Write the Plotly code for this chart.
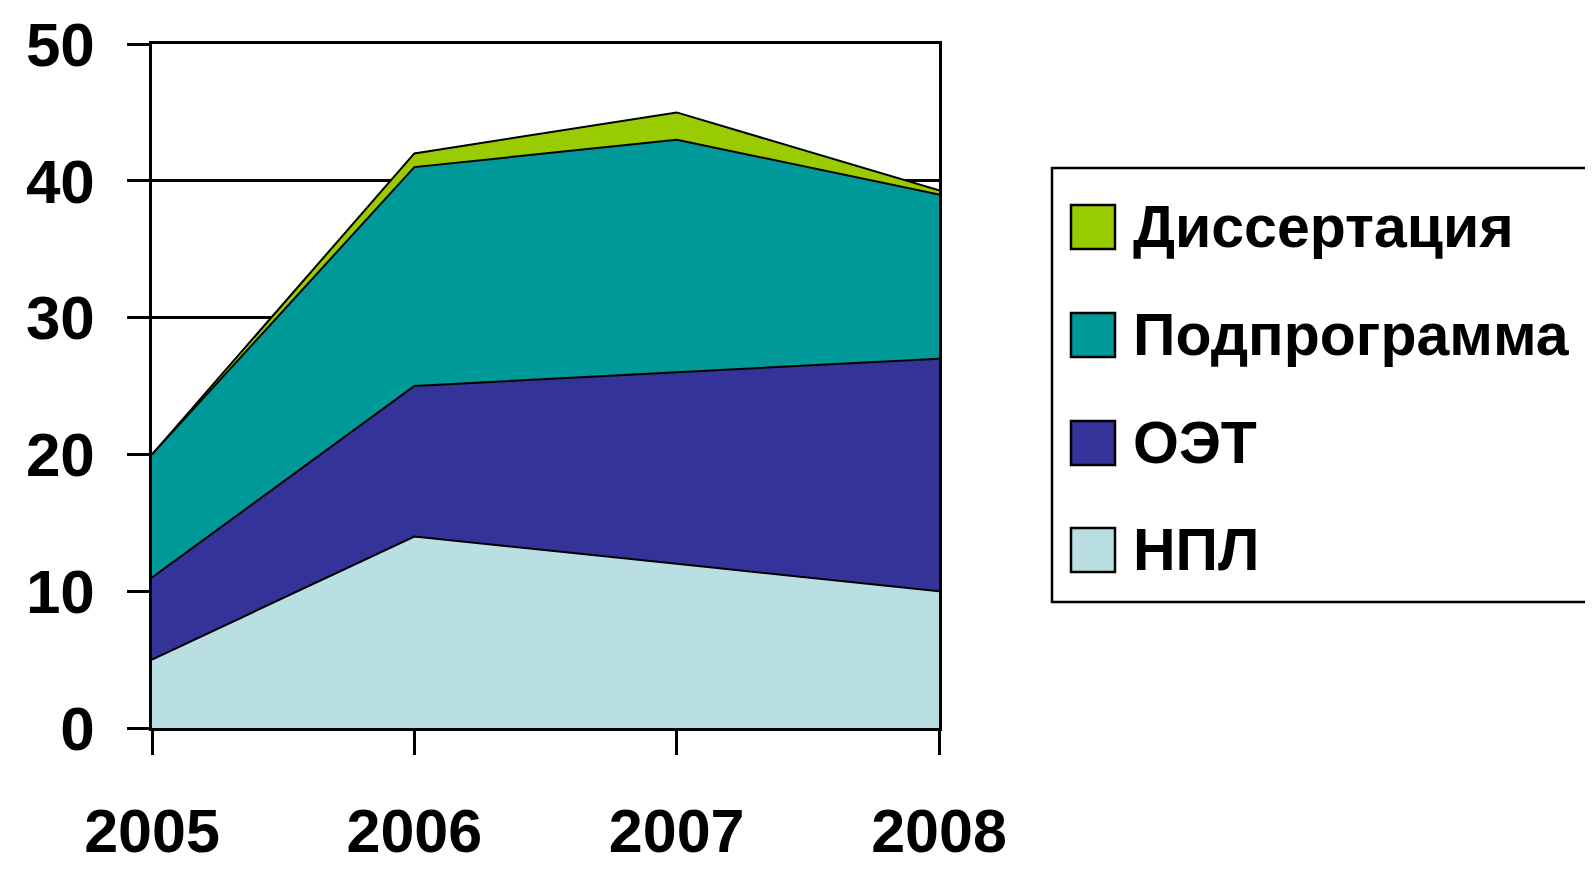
import plotly.graph_objects as go

years = [2005, 2006, 2007, 2008]
series_names = ["НПЛ", "ОЭТ", "Подпрограмма", "Диссертация"]
npl = [5, 14, 12, 10]
oet = [6, 11, 14, 17]
podprogramma = [9, 16, 17, 12]
dissertaciya = [0, 1, 2, 0.3]
series_values = [npl, oet, podprogramma, dissertaciya]
colors = ["#B9DFE2", "#333399", "#009999", "#99CC00"]
y_ticks = [0, 10, 20, 30, 40, 50]

FONT = "Liberation Sans"

# plot area in screen pixels (page body has an 8px margin)
OFF = 8
W, H = 1593 - OFF, 870 - OFF
L, R, T, B = 152, 939, 44, 728

fig = go.Figure()
for name, vals, col in zip(series_names, series_values, colors):
    fig.add_trace(go.Scatter(
        x=years, y=vals, name=name, mode="lines",
        stackgroup="one", fillcolor=col,
        line=dict(color="black", width=2),
        showlegend=False,
    ))

fig.update_layout(
    width=W, height=H,
    margin=dict(l=L - OFF, r=W - (R - OFF), t=T - OFF, b=H - (B - OFF), autoexpand=False),
    paper_bgcolor="white", plot_bgcolor="white",
    font=dict(family=FONT, color="black"),
)
fig.update_xaxes(
    range=[2005, 2008], tickvals=years, ticktext=[f"<b>{y}</b>" for y in years],
    tickfont=dict(size=61, family=FONT, color="black"),
    ticks="outside", ticklen=24, tickwidth=2.5, tickcolor="black",
    showline=True, linecolor="black", linewidth=2.5, mirror=True,
    showgrid=False, zeroline=False, ticklabelstandoff=24, automargin=False,
)
fig.update_yaxes(
    range=[0, 50], tickvals=y_ticks, ticktext=[f"<b>{v}</b>" for v in y_ticks],
    tickfont=dict(size=62, family=FONT, color="black"),
    ticks="outside", ticklen=22, tickwidth=2.5, tickcolor="black",
    showline=True, linecolor="black", linewidth=2.5, mirror=True,
    showgrid=True, gridcolor="black", gridwidth=2.5, zeroline=False,
    ticklabelstandoff=20, automargin=False,
)

def px(xp):
    return (xp - L) / (R - L)

def py(yp):
    return (B - yp) / (B - T)

# legend box
fig.add_shape(type="rect", xref="paper", yref="paper",
              x0=px(1052), x1=px(1610), y0=py(602), y1=py(168),
              line=dict(color="black", width=2.5), fillcolor="white", layer="above")

# legend entries: top to bottom in reverse stacking order
centers = [227, 335, 443, 550]
for i, idx in enumerate(reversed(range(len(series_names)))):
    cy = centers[i]
    fig.add_shape(type="rect", xref="paper", yref="paper",
                  x0=px(1071), x1=px(1115), y0=py(cy + 22), y1=py(cy - 22),
                  line=dict(color="black", width=2.5), fillcolor=colors[idx], layer="above")
    fig.add_annotation(xref="paper", yref="paper", x=px(1131), y=py(cy),
                       xanchor="left", yanchor="middle", showarrow=False,
                       text=f"<b>{series_names[idx]}</b>",
                       font=dict(size=59, family=FONT, color="black"))

fig.write_html("out.html")
